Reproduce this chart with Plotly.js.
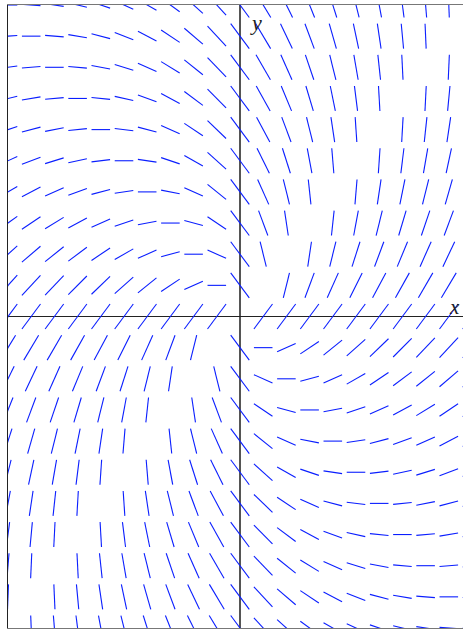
<!DOCTYPE html>
<html>
<head>
<meta charset="utf-8">
<script src="https://cdn.plot.ly/plotly-3.0.1.min.js"></script>
<style>
html, body { margin: 0; padding: 0; overflow: hidden; background: #fff; }
#chart { width: 480px; height: 629px; }
</style>
</head>
<body>
<div id="chart"></div>
<script>
// Grid of sample points for the direction field of dy/dx = (x + y) / (x - y)
const gridX = [-10,-9,-8,-7,-6,-5,-4,-3,-2,-1,0,1,2,3,4,5,6,7,8,9,10];
const gridY = [-10,-9,-8,-7,-6,-5,-4,-3,-2,-1,0,1,2,3,4,5,6,7,8,9,10];
const numer = (x, y) => x + y;   // dy component
const denom = (x, y) => x - y;   // dx component
const halfLen = 0.4;

const segX = [], segY = [];
for (const x of gridX) {
  for (const y of gridY) {
    const d = denom(x, y);
    if (d === 0) continue;           // undefined slope: not drawn
    const m = numer(x, y) / d;
    const s = halfLen / Math.max(1, Math.abs(m));
    segX.push(x - s, x + s, null);
    segY.push(y - s * m, y + s * m, null);
  }
}

const trace = {
  type: 'scatter', mode: 'lines',
  x: segX, y: segY,
  line: { color: '#0a1eff', width: 1.1 },
  hoverinfo: 'skip', connectgaps: false, showlegend: false
};

const layout = {
  width: 480, height: 629,
  margin: { l: 8, r: 8, t: 5, b: 1, pad: 0 },
  paper_bgcolor: '#fff', plot_bgcolor: '#fff',
  xaxis: {
    range: [-10, 10], showgrid: false, showticklabels: false, ticks: '',
    zeroline: true, zerolinecolor: '#555', zerolinewidth: 1.5,
    showline: true, mirror: true, linecolor: '#777', linewidth: 1.5
  },
  yaxis: {
    range: [-10, 10], showgrid: false, showticklabels: false, ticks: '',
    zeroline: true, zerolinecolor: '#222', zerolinewidth: 1,
    showline: true, linecolor: '#222', linewidth: 1
  },
  annotations: [
    { x: 0.69, y: 9.45, xref: 'x', yref: 'y', text: '<i>y</i>', showarrow: false,
      font: { family: 'Liberation Serif, DejaVu Serif, serif', size: 22, color: '#222' },
      xanchor: 'center', yanchor: 'middle' },
    { x: 9.58, y: 0.3, xref: 'x', yref: 'y', text: '<i>x</i>', showarrow: false,
      font: { family: 'Liberation Serif, DejaVu Serif, serif', size: 21, color: '#222' },
      xanchor: 'right', yanchor: 'middle' }
  ]
};

Plotly.newPlot('chart', [trace], layout, { displayModeBar: false, staticPlot: true });
</script>
</body>
</html>
